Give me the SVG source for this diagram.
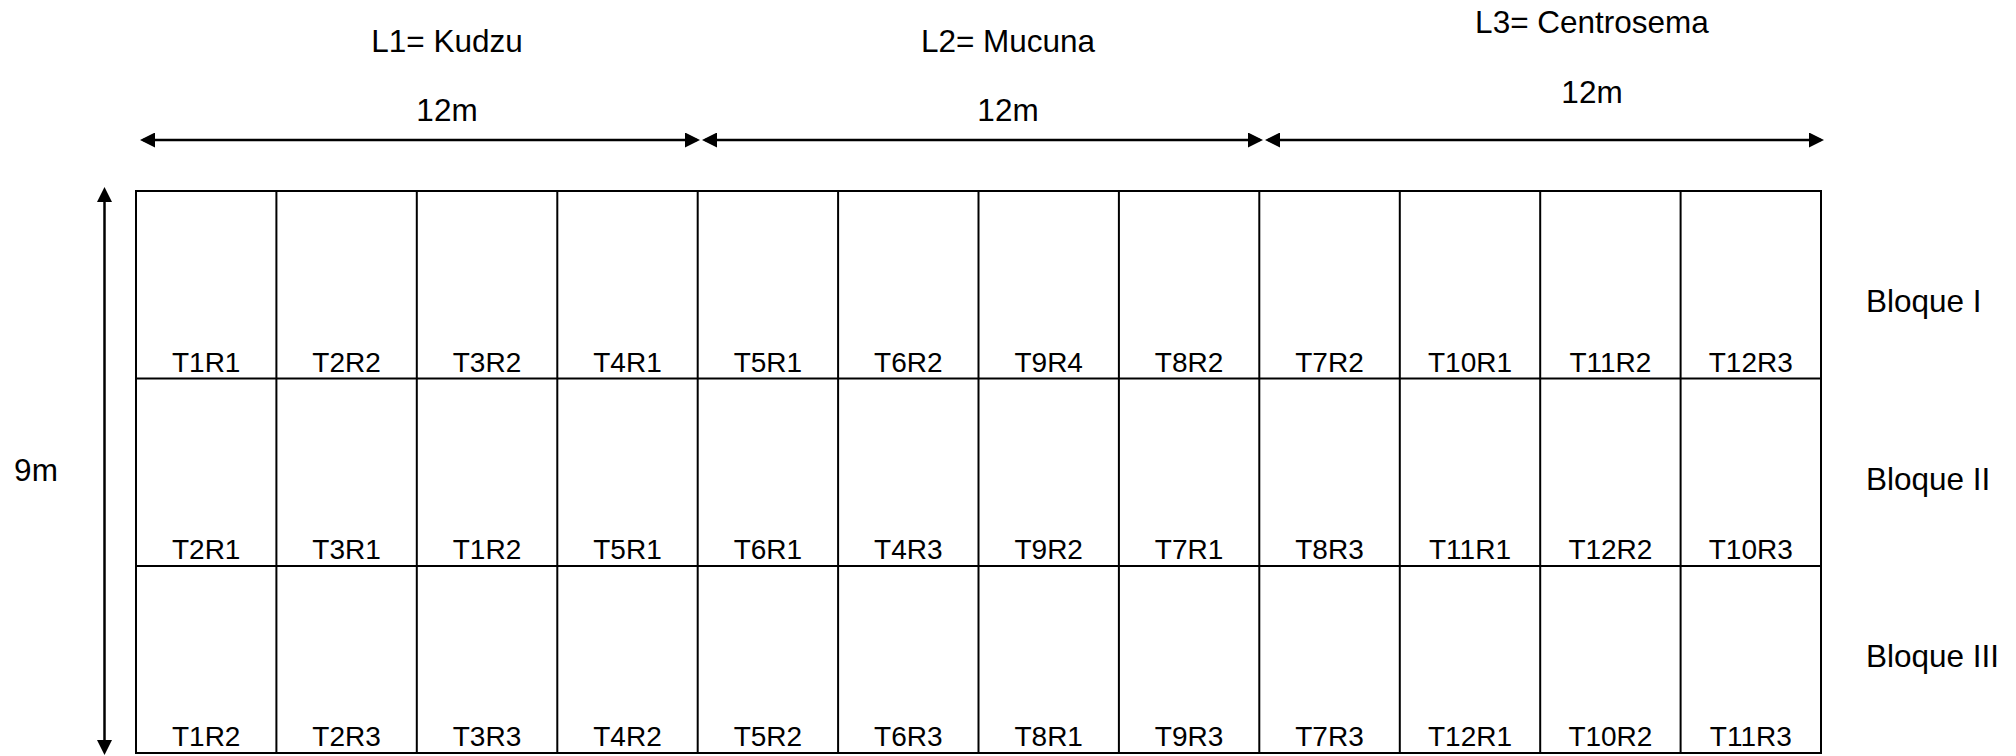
<svg xmlns="http://www.w3.org/2000/svg" width="2016" height="756" viewBox="0 0 2016 756">
<style>
text{font-family:"Liberation Sans",Arial,sans-serif;fill:#000}
.cell{font-size:28px;text-anchor:middle}
.hdr{font-size:31.5px;text-anchor:middle}
.blk{font-size:31.5px}
.grid{fill:none;stroke:#000;stroke-width:2}
.dim{stroke:#000;stroke-width:2.5;fill:none}
</style>
<defs>
<marker id="ah" viewBox="0 0 15 15" refX="12" refY="7.5" markerWidth="15" markerHeight="15" markerUnits="userSpaceOnUse" orient="auto-start-reverse">
<path d="M0,0 L15,7.5 L0,15 z" fill="#000"/>
</marker>
</defs>
<rect width="2016" height="756" fill="#fff"/>
<g id="connectors">
<line class="dim" x1="143" y1="140" x2="697" y2="140" marker-start="url(#ah)" marker-end="url(#ah)"/>
<line class="dim" x1="705" y1="140" x2="1260" y2="140" marker-start="url(#ah)" marker-end="url(#ah)"/>
<line class="dim" x1="1268" y1="140" x2="1821" y2="140" marker-start="url(#ah)" marker-end="url(#ah)"/>
<line class="dim" x1="104.5" y1="190" x2="104.5" y2="752" marker-start="url(#ah)" marker-end="url(#ah)"/>
</g>
<g id="headers">
<text class="hdr" x="447" y="52">L1= Kudzu</text>
<text class="hdr" x="1008" y="52">L2= Mucuna</text>
<text class="hdr" x="1592" y="33">L3= Centrosema</text>
<text class="hdr" x="447" y="121">12m</text>
<text class="hdr" x="1008" y="121">12m</text>
<text class="hdr" x="1592" y="103">12m</text>
<text class="hdr" x="36" y="481">9m</text>
</g>
<g id="blocks">
<text class="blk" x="1866" y="312">Bloque I</text>
<text class="blk" x="1866" y="490">Bloque II</text>
<text class="blk" x="1866" y="667">Bloque III</text>
</g>
<g id="grid">
<rect class="grid" x="136" y="191" width="1685" height="562"/>
<path class="grid" d="M136,378.5H1821M136,566H1821
M276.4,191V753M416.8,191V753M557.3,191V753M697.7,191V753M838.1,191V753M978.5,191V753M1118.9,191V753M1259.3,191V753M1399.8,191V753M1540.2,191V753M1680.6,191V753"/>
</g>
<g id="row1">
<text class="cell" x="206.2" y="372">T1R1</text>
<text class="cell" x="346.6" y="372">T2R2</text>
<text class="cell" x="487" y="372">T3R2</text>
<text class="cell" x="627.5" y="372">T4R1</text>
<text class="cell" x="767.9" y="372">T5R1</text>
<text class="cell" x="908.3" y="372">T6R2</text>
<text class="cell" x="1048.7" y="372">T9R4</text>
<text class="cell" x="1189.1" y="372">T8R2</text>
<text class="cell" x="1329.5" y="372">T7R2</text>
<text class="cell" x="1470" y="372">T10R1</text>
<text class="cell" x="1610.4" y="372">T11R2</text>
<text class="cell" x="1750.8" y="372">T12R3</text>
</g>
<g id="row2">
<text class="cell" x="206.2" y="559">T2R1</text>
<text class="cell" x="346.6" y="559">T3R1</text>
<text class="cell" x="487" y="559">T1R2</text>
<text class="cell" x="627.5" y="559">T5R1</text>
<text class="cell" x="767.9" y="559">T6R1</text>
<text class="cell" x="908.3" y="559">T4R3</text>
<text class="cell" x="1048.7" y="559">T9R2</text>
<text class="cell" x="1189.1" y="559">T7R1</text>
<text class="cell" x="1329.5" y="559">T8R3</text>
<text class="cell" x="1470" y="559">T11R1</text>
<text class="cell" x="1610.4" y="559">T12R2</text>
<text class="cell" x="1750.8" y="559">T10R3</text>
</g>
<g id="row3">
<text class="cell" x="206.2" y="746">T1R2</text>
<text class="cell" x="346.6" y="746">T2R3</text>
<text class="cell" x="487" y="746">T3R3</text>
<text class="cell" x="627.5" y="746">T4R2</text>
<text class="cell" x="767.9" y="746">T5R2</text>
<text class="cell" x="908.3" y="746">T6R3</text>
<text class="cell" x="1048.7" y="746">T8R1</text>
<text class="cell" x="1189.1" y="746">T9R3</text>
<text class="cell" x="1329.5" y="746">T7R3</text>
<text class="cell" x="1470" y="746">T12R1</text>
<text class="cell" x="1610.4" y="746">T10R2</text>
<text class="cell" x="1750.8" y="746">T11R3</text>
</g>
</svg>
